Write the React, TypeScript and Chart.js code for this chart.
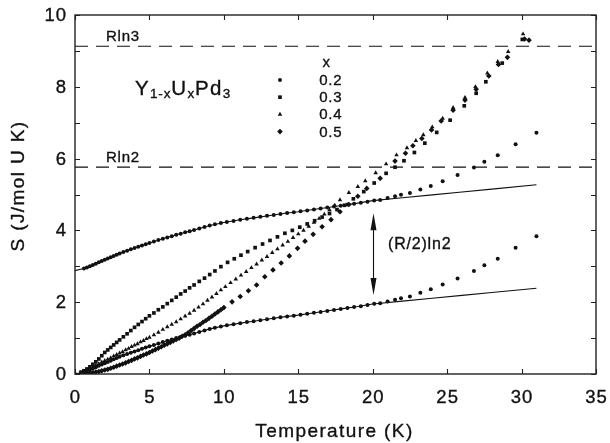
import React, { useEffect, useRef } from 'react';
import { Chart, registerables } from 'chart.js';
import { drawPoint } from 'chart.js/helpers';

Chart.register(...registerables);

const FONT = '"Liberation Sans", Arial, Helvetica, sans-serif';
const INK = '#111';

// ---- data (Temperature K, Entropy J/mol U K) ----
const T_02 = [0, 0.6, 0.8, 1.0, 1.2, 1.4, 1.6, 1.8, 2.0, 2.2, 2.4, 2.6, 2.8, 3.0, 3.25, 3.5, 3.75, 4.0, 4.25, 4.5, 4.75, 5.0, 5.3, 5.6, 5.9, 6.2, 6.5, 6.8, 7.1, 7.4, 7.7, 8.0, 8.35, 8.7, 9.05, 9.4, 9.8, 10.2, 10.65, 11.1, 11.55, 12.0, 12.45, 12.9, 13.35, 13.8, 14.25, 14.7, 15.15, 15.6, 16.05, 16.5, 16.95, 17.4, 17.85, 18.3, 18.75, 19.2, 19.65, 20.1, 20.5, 21.0, 21.5, 21.9, 22.5, 23.2, 23.9, 24.7, 25.7, 26.8, 27.5, 28.4, 29.6, 31.0];
const S_02 = [0, 0.06, 0.09, 0.12, 0.155, 0.19, 0.23, 0.265, 0.3, 0.335, 0.37, 0.41, 0.445, 0.48, 0.52, 0.555, 0.595, 0.63, 0.665, 0.7, 0.735, 0.77, 0.81, 0.85, 0.89, 0.925, 0.96, 1.0, 1.03, 1.065, 1.095, 1.13, 1.17, 1.215, 1.255, 1.29, 1.325, 1.355, 1.385, 1.415, 1.445, 1.47, 1.497, 1.525, 1.55, 1.578, 1.605, 1.625, 1.65, 1.675, 1.705, 1.73, 1.757, 1.785, 1.81, 1.84, 1.865, 1.89, 1.92, 1.955, 1.97, 2.02, 2.07, 2.11, 2.16, 2.26, 2.36, 2.49, 2.66, 2.87, 3.03, 3.21, 3.52, 3.84];

const T_02_SHIFT = [0.6, 0.8, 1.0, 1.2, 1.4, 1.6, 1.8, 2.0, 2.2, 2.4, 2.6, 2.8, 3.0, 3.25, 3.5, 3.75, 4.0, 4.25, 4.5, 4.75, 5.0, 5.3, 5.6, 5.9, 6.2, 6.5, 6.8, 7.1, 7.4, 7.7, 8.0, 8.35, 8.7, 9.05, 9.4, 9.8, 10.2, 10.65, 11.1, 11.55, 12.0, 12.45, 12.9, 13.35, 13.8, 14.25, 14.7, 15.15, 15.6, 16.05, 16.5, 16.95, 17.4, 17.85, 18.3, 18.75, 19.2, 19.65, 20.1, 20.5, 21.0, 21.5, 21.9, 22.5, 23.2, 23.9, 24.7, 25.7, 26.8, 27.5, 28.4, 29.6, 31.0];
const S_02_SHIFT = [2.94, 2.97, 3.0, 3.035, 3.07, 3.11, 3.145, 3.18, 3.215, 3.25, 3.29, 3.325, 3.36, 3.4, 3.435, 3.475, 3.51, 3.545, 3.58, 3.615, 3.65, 3.69, 3.73, 3.77, 3.805, 3.84, 3.88, 3.91, 3.945, 3.975, 4.01, 4.05, 4.095, 4.135, 4.17, 4.205, 4.235, 4.265, 4.295, 4.325, 4.35, 4.377, 4.405, 4.43, 4.458, 4.485, 4.505, 4.53, 4.555, 4.585, 4.61, 4.637, 4.665, 4.69, 4.72, 4.745, 4.77, 4.8, 4.835, 4.85, 4.9, 4.95, 4.99, 5.04, 5.14, 5.24, 5.37, 5.54, 5.75, 5.91, 6.09, 6.4, 6.72];

const T_03 = [0.4, 0.6, 0.8, 1.0, 1.2, 1.4, 1.6, 1.8, 2.0, 2.2, 2.4, 2.6, 2.8, 3.0, 3.25, 3.5, 3.75, 4.0, 4.25, 4.5, 4.75, 5.0, 5.3, 5.6, 5.9, 6.2, 6.5, 6.8, 7.1, 7.4, 7.7, 8.0, 8.35, 8.7, 9.05, 9.4, 9.8, 10.25, 10.7, 11.15, 11.6, 12.1, 12.6, 13.1, 13.6, 14.1, 14.6, 15.1, 15.6, 16.1, 16.6, 17.1, 17.6, 18.1, 18.7, 19.4, 20.1, 20.9, 21.5, 22.1, 22.8, 23.5, 24.3, 25.2, 26.15, 26.95, 27.6, 28.7, 30.05];
const S_03 = [0.05, 0.09, 0.14, 0.2, 0.27, 0.34, 0.42, 0.51, 0.6, 0.67, 0.74, 0.81, 0.88, 0.95, 1.035, 1.12, 1.21, 1.3, 1.38, 1.46, 1.54, 1.62, 1.7, 1.79, 1.87, 1.96, 2.05, 2.14, 2.23, 2.31, 2.4, 2.48, 2.58, 2.67, 2.77, 2.87, 2.99, 3.11, 3.21, 3.31, 3.41, 3.52, 3.62, 3.72, 3.82, 3.92, 4.0, 4.09, 4.18, 4.27, 4.37, 4.47, 4.58, 4.7, 4.88, 5.08, 5.32, 5.59, 5.76, 5.94, 6.17, 6.43, 6.73, 7.07, 7.47, 7.82, 8.14, 8.66, 9.32];

const T_04 = [0.4, 0.6, 0.8, 1.0, 1.2, 1.4, 1.6, 1.8, 2.0, 2.2, 2.4, 2.6, 2.8, 3.0, 3.2, 3.4, 3.6, 3.8, 4.0, 4.2, 4.4, 4.6, 4.8, 5.0, 5.3, 5.6, 5.9, 6.2, 6.5, 6.8, 7.1, 7.4, 7.7, 8.0, 8.3, 8.6, 8.9, 9.2, 9.5, 9.8, 10.1, 10.45, 10.8, 11.15, 11.5, 11.85, 12.2, 12.55, 12.9, 13.25, 13.6, 13.95, 14.3, 14.65, 15.0, 15.35, 15.7, 16.05, 16.4, 16.75, 17.1, 17.45, 17.8, 18.4, 19.0, 19.5, 20.2, 20.9, 21.6, 22.3, 22.9, 23.4, 24.0, 24.7, 25.4, 26.2, 26.9, 27.7, 28.4, 29.1, 30.1];
const S_04 = [0.04, 0.07, 0.11, 0.15, 0.19, 0.24, 0.28, 0.33, 0.37, 0.41, 0.45, 0.5, 0.54, 0.58, 0.62, 0.67, 0.71, 0.76, 0.8, 0.84, 0.89, 0.93, 0.98, 1.02, 1.09, 1.16, 1.24, 1.31, 1.38, 1.45, 1.53, 1.61, 1.69, 1.77, 1.86, 1.95, 2.05, 2.14, 2.24, 2.34, 2.43, 2.54, 2.64, 2.75, 2.85, 2.96, 3.06, 3.17, 3.27, 3.38, 3.48, 3.59, 3.69, 3.8, 3.9, 4.0, 4.11, 4.22, 4.33, 4.45, 4.57, 4.7, 4.85, 5.05, 5.22, 5.38, 5.6, 5.85, 6.1, 6.3, 6.5, 6.66, 6.88, 7.12, 7.42, 7.7, 8.0, 8.38, 8.7, 8.98, 9.47];

const T_05 = [0.4, 0.6, 0.8, 1.0, 1.2, 1.4, 1.6, 1.8, 2.0, 2.2, 2.4, 2.6, 2.8, 3.0, 3.2, 3.4, 3.6, 3.8, 4.0, 4.2, 4.4, 4.6, 4.8, 5.0, 5.2, 5.4, 5.6, 5.8, 6.0, 6.2, 6.4, 6.6, 6.8, 7.0, 7.2, 7.4, 7.6, 7.8, 8.0, 8.2, 8.4, 8.6, 8.8, 9.0, 9.2, 9.4, 9.6, 9.8, 10.0, 10.55, 11.1, 11.65, 12.2, 12.75, 13.3, 13.85, 14.4, 14.95, 15.45, 16.0, 16.6, 17.2, 17.8, 18.4, 19.0, 19.6, 20.5, 21.5, 22.2, 22.7, 23.3, 23.95, 24.6, 25.4, 26.2, 26.95, 27.8, 28.45, 29.05, 30.2, 30.5];
const S_05 = [0.01, 0.015, 0.02, 0.03, 0.04, 0.055, 0.07, 0.09, 0.11, 0.13, 0.16, 0.19, 0.22, 0.25, 0.28, 0.31, 0.35, 0.38, 0.42, 0.45, 0.49, 0.53, 0.56, 0.6, 0.64, 0.68, 0.72, 0.76, 0.8, 0.84, 0.88, 0.92, 0.96, 1.0, 1.05, 1.09, 1.15, 1.21, 1.27, 1.33, 1.38, 1.44, 1.49, 1.55, 1.61, 1.67, 1.73, 1.79, 1.85, 2.01, 2.16, 2.32, 2.48, 2.71, 2.9, 3.09, 3.29, 3.5, 3.7, 3.89, 4.1, 4.3, 4.52, 4.72, 4.95, 5.17, 5.45, 5.93, 6.15, 6.36, 6.56, 6.8, 7.05, 7.35, 7.63, 7.93, 8.3, 8.62, 8.82, 9.33, 9.3];

// solid model curves
const T_LINE = [0, 0.5, 1, 1.5, 2, 3, 4, 5, 6, 7, 8, 9, 10, 11, 12, 13, 14, 15, 16, 17, 18, 19, 20, 22, 24, 26, 28, 31];
const S_LINE_LOW = [0, 0.05, 0.12, 0.21, 0.3, 0.48, 0.63, 0.77, 0.9, 1.02, 1.13, 1.25, 1.34, 1.41, 1.47, 1.53, 1.59, 1.64, 1.7, 1.76, 1.82, 1.88, 1.95, 2.03, 2.11, 2.19, 2.27, 2.39];
const S_LINE_UP = [2.88, 2.93, 3.0, 3.09, 3.18, 3.36, 3.51, 3.65, 3.78, 3.9, 4.01, 4.13, 4.22, 4.29, 4.35, 4.41, 4.47, 4.52, 4.58, 4.64, 4.7, 4.76, 4.83, 4.91, 4.99, 5.07, 5.15, 5.27];

// reference levels
const RLN3 = 9.13;
const RLN2 = 5.76;
const REF_SPAN = [0, 35];

// legend
const SERIES_LABELS = ['0.2', '0.3', '0.4', '0.5'];
const SERIES_STYLES = ['circle', 'rect', 'triangle', 'rectRot'];
const SERIES_RADII = [2.0, 2.6, 2.6, 2.8];

// arrow annotation
const ARROW_T = 20;
const ARROW_TOP = 4.48;
const ARROW_BOTTOM = 2.2;

const pts = (xs: number[], ys: number[]) => xs.map((x, i) => ({ x, y: ys[i] }));

function setSpacing(ctx: CanvasRenderingContext2D, px: number) {
  (ctx as any).letterSpacing = px + 'px';
}

const overlay = {
  id: 'overlay',
  afterDatasetsDraw(chart: any) {
    const { ctx, chartArea: a, scales } = chart;
    const x = scales.x;
    const y = scales.y;
    ctx.save();
    // frame
    ctx.strokeStyle = '#222';
    ctx.lineWidth = 1.4;
    ctx.strokeRect(a.left, a.top, a.right - a.left, a.bottom - a.top);
    // inward ticks
    ctx.lineWidth = 1.1;
    ctx.beginPath();
    x.ticks.forEach((t: any) => {
      const px = Math.round(x.getPixelForValue(t.value)) + 0.5;
      ctx.moveTo(px, a.bottom);
      ctx.lineTo(px, a.bottom - 5);
      ctx.moveTo(px, a.top);
      ctx.lineTo(px, a.top + 5);
    });
    y.ticks.forEach((t: any) => {
      const py = Math.round(y.getPixelForValue(t.value)) + 0.5;
      ctx.moveTo(a.left, py);
      ctx.lineTo(a.left + 5, py);
      ctx.moveTo(a.right, py);
      ctx.lineTo(a.right - 5, py);
    });
    ctx.stroke();

    ctx.fillStyle = INK;
    ctx.strokeStyle = INK;
    ctx.lineWidth = 0.35;
    const txt = (s: string, px: number, py: number) => {
      ctx.fillText(s, px, py);
      ctx.strokeText(s, px, py);
    };
    // tick labels
    ctx.font = `18.5px ${FONT}`;
    setSpacing(ctx, 1);
    ctx.textAlign = 'center';
    ctx.textBaseline = 'alphabetic';
    x.ticks.forEach((t: any) => {
      txt(String(t.value), x.getPixelForValue(t.value) + 0.5, 403);
    });
    ctx.textAlign = 'right';
    ctx.textBaseline = 'middle';
    y.ticks.forEach((t: any) => {
      if (t.value % 2 !== 0) return;
      txt(String(t.value), 67, y.getPixelForValue(t.value) + 1);
    });

    // axis titles
    ctx.font = `19px ${FONT}`;
    setSpacing(ctx, 1.4);
    ctx.textAlign = 'center';
    ctx.textBaseline = 'alphabetic';
    txt('Temperature (K)', (a.left + a.right) / 2 - 1, 437);
    ctx.save();
    ctx.translate(24, 186);
    ctx.rotate(-Math.PI / 2);
    ctx.textBaseline = 'alphabetic';
    txt('S (J/mol U K)', 0, 0);
    ctx.restore();

    // reference labels
    ctx.font = `15px ${FONT}`;
    setSpacing(ctx, 0.8);
    ctx.textAlign = 'left';
    ctx.textBaseline = 'alphabetic';
    txt('Rln3', x.getPixelForValue(2.08), y.getPixelForValue(RLN3) - 5);
    txt('Rln2', x.getPixelForValue(2.08), y.getPixelForValue(RLN2) - 5);

    // compound formula with subscripts
    const parts: [string, boolean][] = [['Y', false], ['1-x', true], ['U', false], ['x', true], ['Pd', false], ['3', true]];
    let cx = x.getPixelForValue(4.03);
    const by = y.getPixelForValue(7.77);
    parts.forEach(([s, sub]) => {
      ctx.font = sub ? `13.5px ${FONT}` : `20.5px ${FONT}`;
      setSpacing(ctx, sub ? 0.8 : 1.4);
      txt(s, cx, sub ? by + 2.5 : by);
      cx += ctx.measureText(s).width;
    });

    // legend
    ctx.font = `15px ${FONT}`;
    setSpacing(ctx, 0.8);
    ctx.textAlign = 'center';
    txt('x', x.getPixelForValue(16.9), 67);
    ctx.textAlign = 'left';
    const lx = x.getPixelForValue(13.77);
    const tx = x.getPixelForValue(16.4);
    SERIES_LABELS.forEach((lab, i) => {
      const base = 85 + i * 17.2;
      txt(lab, tx, base);
      drawPoint(ctx, { pointStyle: SERIES_STYLES[i] as any, radius: SERIES_RADII[i], rotation: 0, borderWidth: 0 } as any, lx, base - 5);
    });

    // (R/2)ln2 annotation + arrow
    ctx.font = `16px ${FONT}`;
    setSpacing(ctx, 0.8);
    txt('(R/2)ln2', x.getPixelForValue(21.03), y.getPixelForValue(3.48));
    const ax = Math.round(x.getPixelForValue(ARROW_T)) + 0.5;
    const ay1 = y.getPixelForValue(ARROW_TOP);
    const ay2 = y.getPixelForValue(ARROW_BOTTOM);
    ctx.lineWidth = 1.1;
    ctx.beginPath();
    ctx.moveTo(ax, ay1 + 10);
    ctx.lineTo(ax, ay2 - 10);
    ctx.stroke();
    ctx.beginPath();
    ctx.moveTo(ax, ay1);
    ctx.lineTo(ax - 3, ay1 + 17);
    ctx.lineTo(ax + 3, ay1 + 17);
    ctx.closePath();
    ctx.moveTo(ax, ay2);
    ctx.lineTo(ax - 3, ay2 - 17);
    ctx.lineTo(ax + 3, ay2 - 17);
    ctx.closePath();
    ctx.fill();

    ctx.restore();
  },
};

export default function App() {
  const ref = useRef<HTMLCanvasElement | null>(null);
  useEffect(() => {
    if (!ref.current) return;
    const pointSet = (data: any[], i: number) => ({
      type: 'scatter' as const,
      data,
      showLine: false,
      pointStyle: SERIES_STYLES[i],
      pointRadius: SERIES_RADII[i],
      pointBorderWidth: 0,
      pointBackgroundColor: INK,
      pointBorderColor: INK,
    });
    const lineSet = (data: any[], dash: number[] = [], width = 1) => ({
      type: 'line' as const,
      data,
      showLine: true,
      borderColor: INK,
      borderWidth: width,
      borderDash: dash,
      pointRadius: 0,
      fill: false,
      tension: 0,
    });
    const chart = new Chart(ref.current, {
      type: 'scatter',
      data: {
        datasets: [
          lineSet(pts(REF_SPAN, [RLN3, RLN3]), [13, 8], 1.2),
          lineSet(pts(REF_SPAN, [RLN2, RLN2]), [13, 8], 1.2),
          lineSet(pts(T_LINE, S_LINE_LOW), [], 1.1),
          lineSet(pts(T_LINE, S_LINE_UP), [], 1.1),
          pointSet(pts(T_02, S_02), 0),
          pointSet(pts(T_02_SHIFT, S_02_SHIFT), 0),
          pointSet(pts(T_03, S_03), 1),
          pointSet(pts(T_04, S_04), 2),
          pointSet(pts(T_05, S_05), 3),
        ] as any,
      },
      options: {
        animation: false,
        responsive: false,
        events: [],
        layout: { padding: { left: 0, right: 14, top: 15, bottom: 0 } },
        plugins: { legend: { display: false }, tooltip: { enabled: false } },
        scales: {
          x: {
            type: 'linear',
            min: 0,
            max: 35,
            ticks: { stepSize: 5, display: false },
            grid: { display: false },
            border: { display: false },
            afterFit: (s: any) => { s.height = 69; },
          },
          y: {
            type: 'linear',
            min: 0,
            max: 10,
            ticks: { stepSize: 1, display: false },
            grid: { display: false },
            border: { display: false },
            afterFit: (s: any) => { s.width = 75; },
          },
        },
      },
      plugins: [overlay],
    });
    return () => chart.destroy();
  }, []);
  return (
    <div style={{ position: 'absolute', left: 0, top: 0, width: 610, height: 443, background: '#fff' }}>
      <canvas ref={ref} width={610} height={443} />
    </div>
  );
}
